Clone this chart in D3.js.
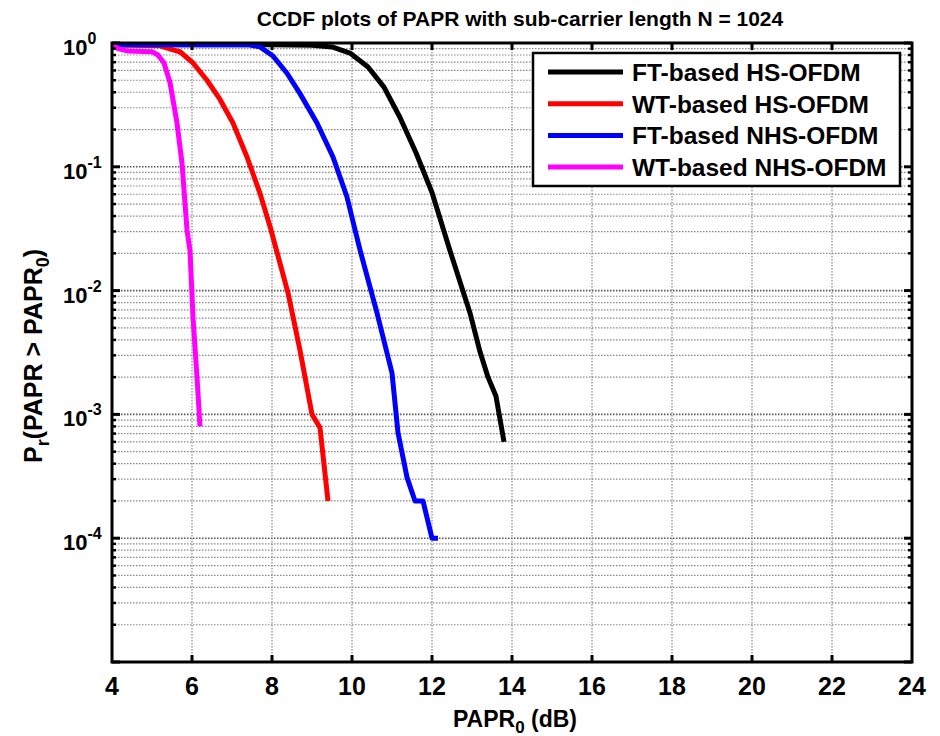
<!DOCTYPE html>
<html>
<head>
<meta charset="utf-8">
<script src="https://cdn.jsdelivr.net/npm/d3@7/dist/d3.min.js"></script>
<style>
body { margin: 0; background: #fff; }
text { font-family: "Liberation Sans", Arial, sans-serif; font-weight: bold; fill: #000; }
</style>
</head>
<body>
<script>
// PAPR0 (dB) and CCDF values
var ftHsX  = [4, 8, 9, 9.5, 9.95, 10.4, 10.8, 11.2, 11.6, 12.0, 12.45, 12.95, 13.2, 13.4, 13.6, 13.8];
var ftHsY  = [0.97, 0.97, 0.96, 0.93, 0.83, 0.64, 0.44, 0.25, 0.13, 0.062, 0.021, 0.0066, 0.0032, 0.002, 0.0014, 0.0006];

var wtHsX  = [4, 5.2, 5.525, 5.7, 6.025, 6.375, 6.7, 7.025, 7.375, 7.7, 7.95, 8.4, 8.7, 9.0, 9.2, 9.4];
var wtHsY  = [0.97, 0.95, 0.88, 0.85, 0.69, 0.5, 0.35, 0.226, 0.12, 0.061, 0.033, 0.0096, 0.0033, 0.001, 0.00078, 0.0002];

var ftNhsX = [4, 7.4, 7.7, 8.025, 8.375, 8.7, 9.125, 9.525, 9.875, 10.075, 10.2, 10.625, 11.0, 11.15, 11.375, 11.575, 11.775, 12.0, 12.15];
var ftNhsY = [0.97, 0.97, 0.93, 0.785, 0.57, 0.39, 0.226, 0.12, 0.057, 0.031, 0.0213, 0.0066, 0.00216, 0.00071, 0.00031, 0.0002, 0.0002, 0.0001, 0.0001];

var wtNhsX = [4, 4.15, 4.4, 5.0, 5.15, 5.3, 5.45, 5.625, 5.75, 5.875, 5.95, 6.025, 6.125, 6.2];
var wtNhsY = [0.97, 0.9, 0.86, 0.85, 0.8, 0.69, 0.48, 0.226, 0.107, 0.031, 0.021, 0.0061, 0.002, 0.0008];

var seriesNames = ["FT-based HS-OFDM", "WT-based HS-OFDM", "FT-based NHS-OFDM", "WT-based NHS-OFDM"];
var seriesColors = ["#000000", "#ff0000", "#0000ff", "#ff00ff"];

var xTicks = [4, 6, 8, 10, 12, 14, 16, 18, 20, 22, 24];
var yExponents = [0, -1, -2, -3, -4];

var width = 940, height = 736;
var margin = {left: 112, top: 43, right: 28, bottom: 74};
var w = width - margin.left - margin.right;
var h = height - margin.top - margin.bottom;

var svg = d3.select("body").append("svg")
    .attr("width", width)
    .attr("height", height);

var x = d3.scaleLinear().domain([4, 24]).range([0, w]);
var y = d3.scaleLog().domain([1e-5, 1]).range([h, 0]);

var g = svg.append("g")
    .attr("transform", "translate(" + margin.left + "," + margin.top + ")");

// grid lines
var minorY = [];
for (var e = -5; e < 0; e++) {
    for (var k = 2; k <= 9; k++) minorY.push(k * Math.pow(10, e));
}
var majorY = [1e-5, 1e-4, 1e-3, 1e-2, 1e-1];

g.selectAll(".minor")
    .data(minorY)
    .enter().append("line")
    .attr("x1", 0).attr("x2", w)
    .attr("y1", function(d) { return y(d); })
    .attr("y2", function(d) { return y(d); })
    .attr("stroke", "#888").attr("stroke-width", 1.2)
    .attr("stroke-dasharray", "1.5,1.5");

g.selectAll(".major")
    .data(majorY)
    .enter().append("line")
    .attr("x1", 0).attr("x2", w)
    .attr("y1", function(d) { return y(d); })
    .attr("y2", function(d) { return y(d); })
    .attr("stroke", "#555").attr("stroke-width", 1.6)
    .attr("stroke-dasharray", "1.5,1.5");

g.selectAll(".xgrid")
    .data(xTicks.slice(1, -1))
    .enter().append("line")
    .attr("x1", function(d) { return x(d); })
    .attr("x2", function(d) { return x(d); })
    .attr("y1", 0).attr("y2", h)
    .attr("stroke", "#888").attr("stroke-width", 1.2)
    .attr("stroke-dasharray", "1.5,1.5");

// curves
var line = d3.line()
    .x(function(d) { return x(d[0]); })
    .y(function(d) { return y(d[1]); });

var series = [
    d3.zip(ftHsX, ftHsY),
    d3.zip(wtHsX, wtHsY),
    d3.zip(ftNhsX, ftNhsY),
    d3.zip(wtNhsX, wtNhsY)
];

g.selectAll(".curve")
    .data(series)
    .enter().append("path")
    .attr("d", line)
    .attr("fill", "none")
    .attr("stroke", function(d, i) { return seriesColors[i]; })
    .attr("stroke-width", 5)
    .attr("stroke-linejoin", "round");

// ticks (inward)
xTicks.slice(1, -1).forEach(function(t) {
    g.append("line").attr("x1", x(t)).attr("x2", x(t)).attr("y1", h).attr("y2", h - 7)
        .attr("stroke", "#000").attr("stroke-width", 3);
    g.append("line").attr("x1", x(t)).attr("x2", x(t)).attr("y1", 0).attr("y2", 7)
        .attr("stroke", "#000").attr("stroke-width", 3);
});
majorY.concat([1]).forEach(function(t) {
    g.append("line").attr("x1", 0).attr("x2", 8).attr("y1", y(t)).attr("y2", y(t))
        .attr("stroke", "#000").attr("stroke-width", 3);
    g.append("line").attr("x1", w).attr("x2", w - 8).attr("y1", y(t)).attr("y2", y(t))
        .attr("stroke", "#000").attr("stroke-width", 3);
});
minorY.forEach(function(t) {
    g.append("line").attr("x1", 0).attr("x2", 4).attr("y1", y(t)).attr("y2", y(t))
        .attr("stroke", "#000").attr("stroke-width", 2.5);
    g.append("line").attr("x1", w).attr("x2", w - 4).attr("y1", y(t)).attr("y2", y(t))
        .attr("stroke", "#000").attr("stroke-width", 2.5);
});

// box
g.append("rect")
    .attr("width", w).attr("height", h)
    .attr("fill", "none").attr("stroke", "#000").attr("stroke-width", 3);

// x tick labels
g.selectAll(".xlab")
    .data(xTicks)
    .enter().append("text")
    .attr("x", function(d) { return x(d); })
    .attr("y", h + 33)
    .attr("text-anchor", "middle")
    .attr("font-size", 25)
    .text(function(d) { return d; });

// y tick labels (left aligned like the original)
yExponents.forEach(function(e) {
    var t = g.append("text")
        .attr("x", 63 - margin.left)
        .attr("y", y(Math.pow(10, e)) + 12)
        .attr("font-size", 22);
    t.append("tspan").text("10");
    t.append("tspan").attr("dy", -11).attr("font-size", 16).text(e);
});

// title
svg.append("text")
    .attr("x", margin.left + w / 2 + 8)
    .attr("y", 26)
    .attr("text-anchor", "middle")
    .attr("font-size", 21)
    .text("CCDF plots of PAPR with sub-carrier length N = 1024");

// x label
var xl = svg.append("text")
    .attr("x", margin.left + w / 2 + 3)
    .attr("y", 727)
    .attr("text-anchor", "middle")
    .attr("font-size", 23);
xl.append("tspan").text("PAPR");
xl.append("tspan").attr("dy", 6).attr("font-size", 17).text("0");
xl.append("tspan").attr("dy", -6).text(" (dB)");

// y label
var yl = svg.append("text")
    .attr("transform", "translate(42,356) rotate(-90)")
    .attr("text-anchor", "middle")
    .attr("font-size", 25);
yl.append("tspan").text("P");
yl.append("tspan").attr("dy", 7).attr("font-size", 18).text("r");
yl.append("tspan").attr("dy", -7).text("(PAPR > PAPR");
yl.append("tspan").attr("dy", 7).attr("font-size", 18).text("0");
yl.append("tspan").attr("dy", -7).text(")");

// legend
var legend = svg.append("g").attr("transform", "translate(533,53)");
legend.append("rect")
    .attr("width", 367).attr("height", 133)
    .attr("fill", "#fff").attr("stroke", "#000").attr("stroke-width", 2.5);

var item = legend.selectAll(".item")
    .data(seriesNames)
    .enter().append("g")
    .attr("transform", function(d, i) { return "translate(0," + (19 + i * 31.7) + ")"; });

item.append("line")
    .attr("x1", 15).attr("x2", 90)
    .attr("stroke", function(d, i) { return seriesColors[i]; })
    .attr("stroke-width", 5);

item.append("text")
    .attr("x", 99)
    .attr("y", 9)
    .attr("font-size", 24.5)
    .text(function(d) { return d; });
</script>
</body>
</html>
